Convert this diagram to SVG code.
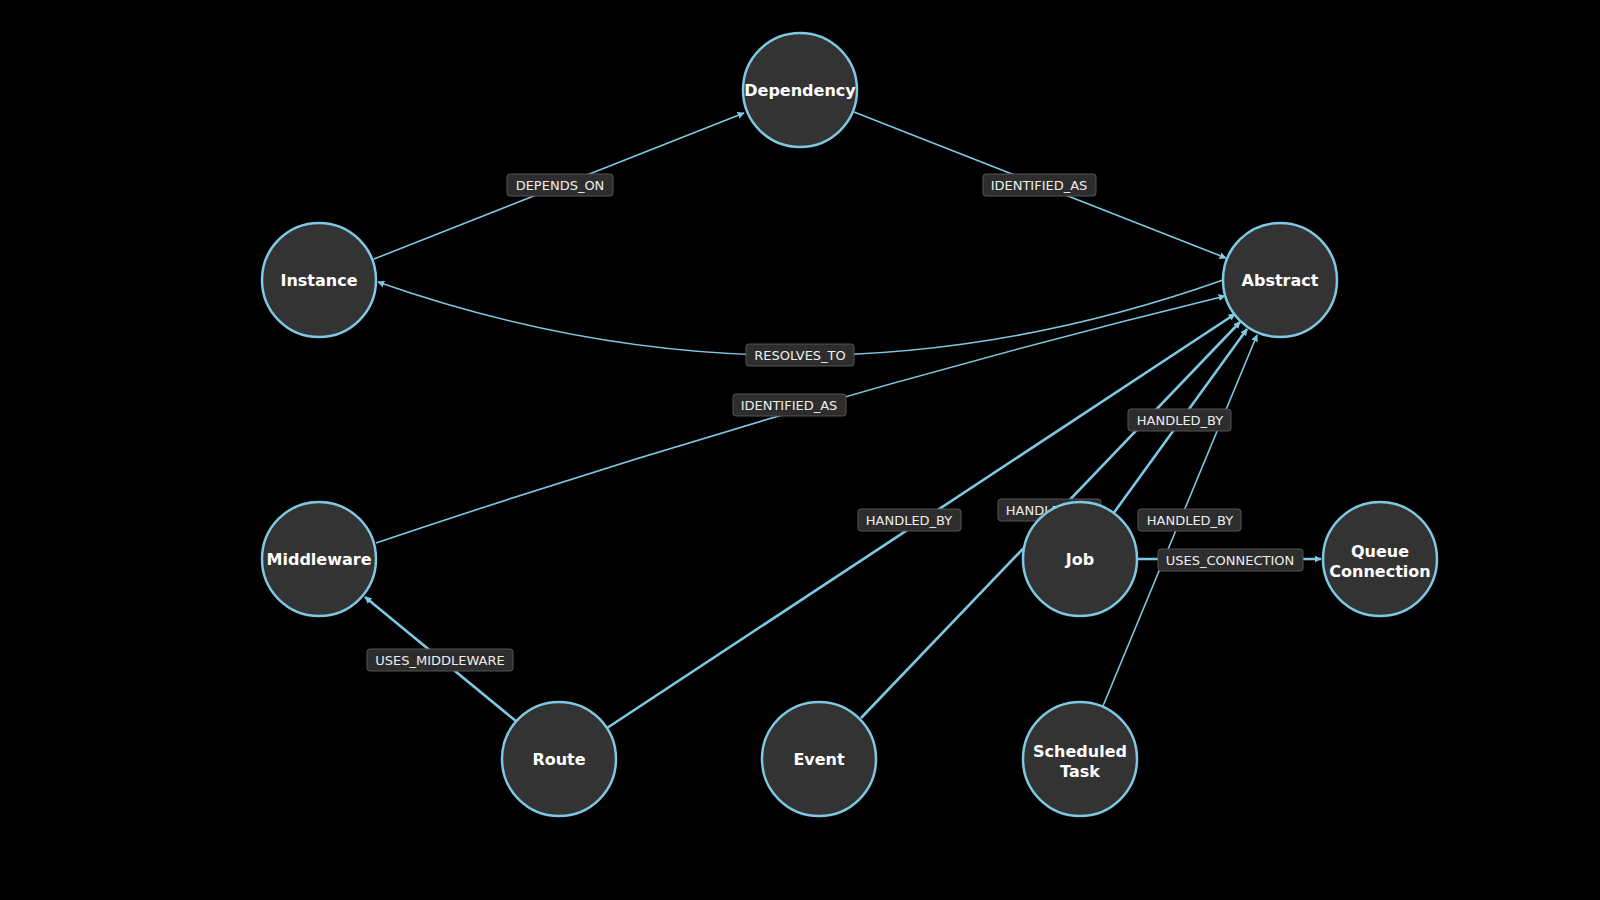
<svg xmlns="http://www.w3.org/2000/svg" width="1600" height="900" viewBox="0 0 1600 900">
<style>
.n{fill:#333;stroke:#7ec8e3;stroke-width:2.5}
.t{font-family:"DejaVu Sans",sans-serif;font-weight:bold;font-size:16px;fill:#fff;text-anchor:middle}
.e{fill:none;stroke:#7ec8e3;stroke-width:1.6}
.w{stroke-width:2.6}
.lb{fill:#2d2d2d;stroke:#555;stroke-width:1}
.lt{font-family:"DejaVu Sans",sans-serif;font-size:13px;fill:#eee;text-anchor:middle}
</style>
<defs><marker id="a" viewBox="0 0 10 10" refX="9" refY="5" markerWidth="7" markerHeight="7" markerUnits="userSpaceOnUse" orient="auto"><path d="M0,0L10,5L0,10z" fill="#7ec8e3"/></marker></defs>
<rect width="1600" height="900" fill="#000"/>
<g id="edges">
<path class="e" d="M374,259L744,113" marker-end="url(#a)"/>
<path class="e" d="M854,112L1226,258" marker-end="url(#a)"/>
<path class="e" d="M1223,280Q800,430 378,282" marker-end="url(#a)"/>
<path class="e" d="M376,543Q800,400 1225,296" marker-end="url(#a)"/>
<path class="e w" d="M607,728L1235,314" marker-end="url(#a)"/>
<path class="e w" d="M861,718L1240,322" marker-end="url(#a)"/>
<path class="e w" d="M1113,514L1247,329" marker-end="url(#a)"/>
<path class="e" d="M1103,706L1257,335" marker-end="url(#a)"/>
<path class="e w" d="M1138,559L1321,559" marker-end="url(#a)"/>
<path class="e w" d="M517,722L365,597" marker-end="url(#a)"/>
<g id="labels">
<rect class="lb" x="507" y="174" width="106" height="22" rx="3"/><text class="lt" x="560" y="190">DEPENDS_ON</text>
<rect class="lb" x="983" y="174" width="113" height="22" rx="3"/><text class="lt" x="1039" y="190">IDENTIFIED_AS</text>
<rect class="lb" x="746" y="344" width="108" height="22" rx="3"/><text class="lt" x="800" y="360">RESOLVES_TO</text>
<rect class="lb" x="733" y="394" width="113" height="22" rx="3"/><text class="lt" x="789" y="410">IDENTIFIED_AS</text>
<rect class="lb" x="858" y="509" width="103" height="22" rx="3"/><text class="lt" x="909" y="525">HANDLED_BY</text>
<rect class="lb" x="998" y="499" width="103" height="22" rx="3"/><text class="lt" x="1049" y="515">HANDLED_BY</text>
<rect class="lb" x="1128" y="409" width="103" height="22" rx="3"/><text class="lt" x="1180" y="425">HANDLED_BY</text>
<rect class="lb" x="1138" y="509" width="103" height="22" rx="3"/><text class="lt" x="1190" y="525">HANDLED_BY</text>
<rect class="lb" x="1158" y="549" width="145" height="22" rx="3"/><text class="lt" x="1230" y="565">USES_CONNECTION</text>
<rect class="lb" x="367" y="649" width="146" height="22" rx="3"/><text class="lt" x="440" y="665">USES_MIDDLEWARE</text>
</g>
</g>
<g id="dependency"><circle class="n" cx="800" cy="90" r="57"/><text class="t" x="800" y="96">Dependency</text></g>
<g id="instance"><circle class="n" cx="319" cy="280" r="57"/><text class="t" x="319" y="286">Instance</text></g>
<g id="abstract"><circle class="n" cx="1280" cy="280" r="57"/><text class="t" x="1280" y="286">Abstract</text></g>
<g id="middleware"><circle class="n" cx="319" cy="559" r="57"/><text class="t" x="319" y="565">Middleware</text></g>
<g id="job"><circle class="n" cx="1080" cy="559" r="57"/><text class="t" x="1080" y="565">Job</text></g>
<g id="queue"><circle class="n" cx="1380" cy="559" r="57"/><text class="t" x="1380" y="557">Queue</text><text class="t" x="1380" y="577">Connection</text></g>
<g id="route"><circle class="n" cx="559" cy="759" r="57"/><text class="t" x="559" y="765">Route</text></g>
<g id="event"><circle class="n" cx="819" cy="759" r="57"/><text class="t" x="819" y="765">Event</text></g>
<g id="scheduled"><circle class="n" cx="1080" cy="759" r="57"/><text class="t" x="1080" y="757">Scheduled</text><text class="t" x="1080" y="777">Task</text></g>
</svg>
